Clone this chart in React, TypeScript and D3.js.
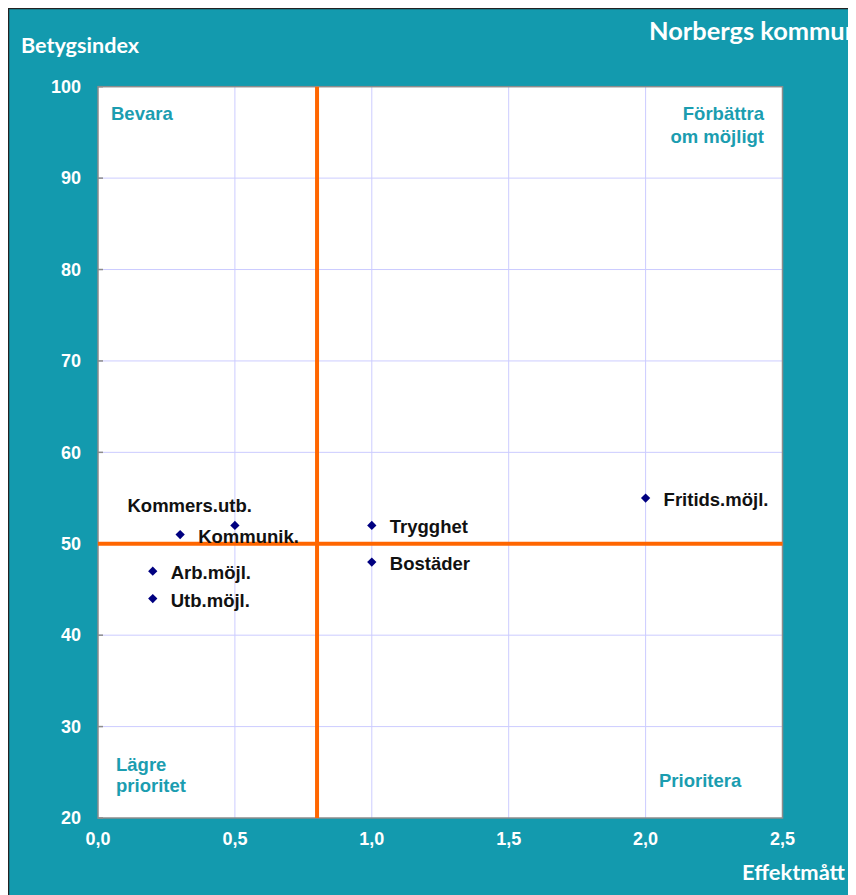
import React from 'react';
import * as d3 from 'd3';

const labels = ['Kommers.utb.', 'Kommunik.', 'Trygghet', 'Bostäder', 'Arb.möjl.', 'Utb.möjl.', 'Fritids.möjl.'];
const effekt = [0.5, 0.3, 1.0, 1.0, 0.2, 0.2, 2.0];
const betyg = [52, 51, 52, 48, 47, 44, 55];
const xTicks = [0, 0.5, 1, 1.5, 2, 2.5];
const yTicks = [20, 30, 40, 50, 60, 70, 80, 90, 100];
const xCut = 0.8;
const yCut = 50;

const W = 848;
const H = 887;
const teal = '#139aae';
const quadTeal = '#1b9db0';
const arial = '"Liberation Sans", Arial, sans-serif';
const calibri = 'Lato, "Open Sans", sans-serif';

const App: React.FC = () => {
  const m = { left: 90, right: 774.5, top: 78.7, bottom: 810 };
  const x = d3.scaleLinear().domain([0, 2.5]).range([m.left, m.right]);
  const y = d3.scaleLinear().domain([20, 100]).range([m.bottom, m.top]);
  const fmt = (v: number) => d3.format('.1f')(v).replace('.', ',');
  const diamond = d3.symbol().type(d3.symbolDiamond2).size(55)();

  return (
    <svg width={W} height={H} style={{ display: 'block' }}>
      <rect x={0.5} y={0.5} width={W + 10} height={H + 10} fill={teal} stroke="#222" strokeWidth={1.5} />
      <text x={13} y={45} fill="white" fontFamily={calibri} fontWeight="bold" fontSize={20}
        textLength={118} lengthAdjust="spacingAndGlyphs">Betygsindex</text>
      <text x={641} y={32} fill="white" fontFamily={calibri} fontWeight="bold" fontSize={24}
        textLength={210} lengthAdjust="spacingAndGlyphs">Norbergs kommun</text>

      <rect x={m.left} y={m.top} width={m.right - m.left} height={m.bottom - m.top} fill="white" />
      {xTicks.slice(1, -1).map(t => (
        <line key={'gx' + t} x1={x(t)} x2={x(t)} y1={m.top} y2={m.bottom} stroke="#ccccff" strokeWidth={1} />
      ))}
      {yTicks.slice(1, -1).map(t => (
        <line key={'gy' + t} x1={m.left} x2={m.right} y1={y(t)} y2={y(t)} stroke="#ccccff" strokeWidth={1} />
      ))}
      <rect x={m.left} y={m.top} width={m.right - m.left} height={m.bottom - m.top} fill="none" stroke="#8c8c8c" strokeWidth={1.5} />
      {yTicks.map(t => (
        <g key={'ty' + t}>
          <line x1={m.left} x2={m.left + 5} y1={y(t)} y2={y(t)} stroke="#8c8c8c" strokeWidth={1.5} />
          <text x={73} y={y(t)} dy="0.35em" textAnchor="end" fill="white" fontFamily={arial} fontWeight="bold" fontSize={18}>{t}</text>
        </g>
      ))}
      {xTicks.map(t => (
        <text key={'tx' + t} x={x(t)} y={837} textAnchor="middle" fill="white" fontFamily={arial} fontWeight="bold" fontSize={18}>{fmt(t)}</text>
      ))}
      <text x={837} y={872} textAnchor="end" fill="white" fontFamily={calibri} fontWeight="bold" fontSize={20}
        textLength={103} lengthAdjust="spacingAndGlyphs">Effektmått</text>

      <line x1={x(xCut)} x2={x(xCut)} y1={m.top} y2={m.bottom} stroke="#ff6600" strokeWidth={4} />
      <line x1={m.left} x2={m.right} y1={y(yCut)} y2={y(yCut)} stroke="#ff6600" strokeWidth={4} />

      <g fontFamily={arial} fontWeight="bold" fontSize={18.5} fill={quadTeal}>
        <text x={103} y={112}>Bevara</text>
        <text x={756} y={112} textAnchor="end">Förbättra</text>
        <text x={756} y={135} textAnchor="end">om möjligt</text>
        <text x={108} y={763}>Lägre</text>
        <text x={108} y={784}>prioritet</text>
        <text x={651} y={779}>Prioritera</text>
      </g>

      {labels.map((l, i) => {
        const px = x(effekt[i]);
        const py = y(betyg[i]);
        const above = i === 0;
        return (
          <g key={l}>
            <path d={diamond!} transform={`translate(${px},${py})`} fill="#000080" />
            <text x={above ? px + 17 : px + 18} y={above ? py - 13 : py + 8} textAnchor={above ? 'end' : 'start'}
              fontFamily={arial} fontWeight="bold" fontSize={18.5} fill="#111">{l}</text>
          </g>
        );
      })}
    </svg>
  );
};

export default App;
